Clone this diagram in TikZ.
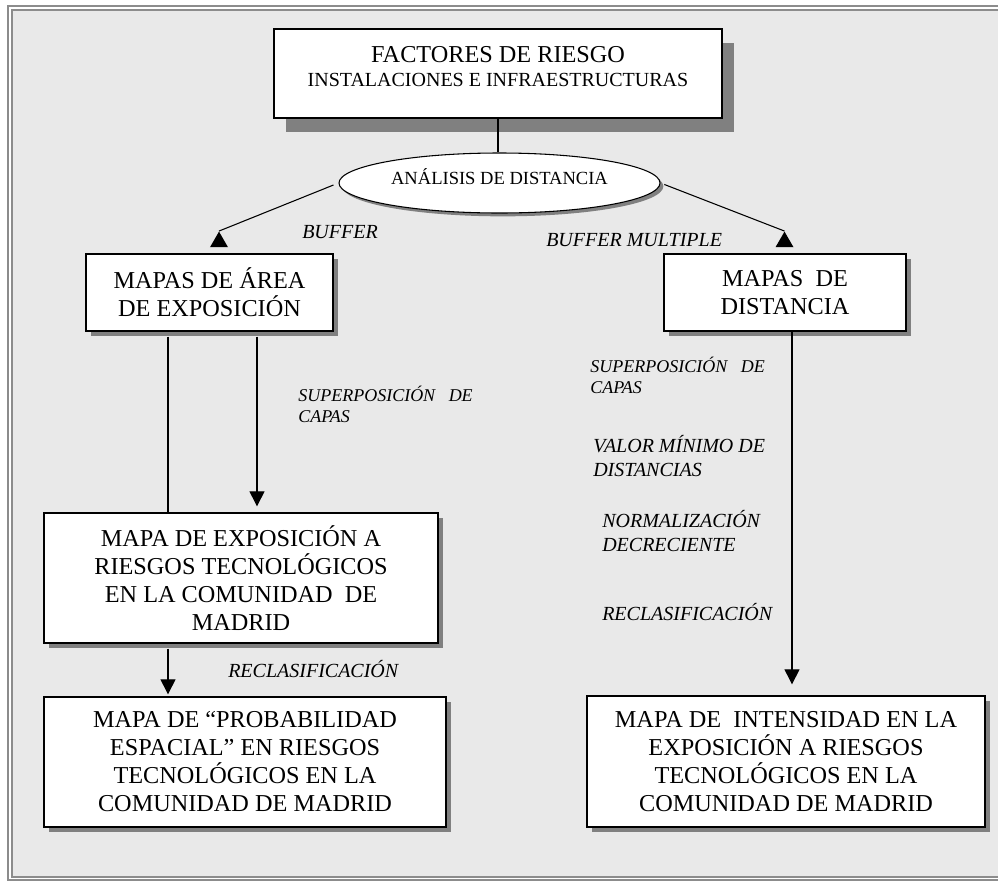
\documentclass[tikz,border=0pt]{standalone}
\usepackage{fontspec}
\setmainfont{Liberation Serif}
\usetikzlibrary{shapes.geometric,shadows,arrows.meta}
\definecolor{panel}{HTML}{E9E9E9}
\definecolor{rim}{HTML}{8C8C8C}
\definecolor{shade}{HTML}{808080}

\begin{document}
\begin{tikzpicture}[x=0.75pt,y=-0.75pt,
    plainbox/.style={draw,line width=1pt,fill=white,align=center,inner sep=0pt,
        font=\fontsize{18.2}{21}\selectfont},
    box/.style={plainbox,drop shadow={shadow xshift=3.75pt,shadow yshift=-3.75pt,fill=shade,opacity=1}},
    topbox/.style={plainbox,drop shadow={shadow xshift=9pt,shadow yshift=-10.5pt,fill=shade,opacity=1}},
    oval/.style={ellipse,draw,line width=0.8pt,fill=white,inner sep=0pt,
        font=\fontsize{13.9}{16}\selectfont,text height=9pt,text depth=6.75pt,
        drop shadow={shadow xshift=2.5pt,shadow yshift=-2.5pt,fill=shade,opacity=1}},
    lbl/.style={anchor=west,align=left,inner sep=0pt,font=\fontsize{15}{18}\selectfont\itshape},
    smlbl/.style={lbl,font=\fontsize{13.5}{15.75}\selectfont\itshape},
    tri/.style={regular polygon,regular polygon sides=3,fill=black,inner sep=0pt,minimum size=15.6pt},
    ln/.style={line width=0.8pt},
    arr/.style={line width=0.8pt,-{Triangle[width=11.25pt,length=11.25pt]}}]
\useasboundingbox (0,0) rectangle (998,882);
\fill[white] (0,0) rectangle (998,882);
\clip (0,0) rectangle (998,882);
\fill[panel] (12,10) rectangle (1030,877);
\draw[rim,line width=1.1pt] (8,6) rectangle (1034,880);
\draw[rim,line width=1.1pt] (12,10) rectangle (1030,877);

\node[topbox,minimum width=336pt,minimum height=66.75pt] (fact) at (498,73.5)
    {FACTORES DE RIESGO\\[-3pt]{\fontsize{15}{19.5}\selectfont INSTALACIONES E INFRAESTRUCTURAS}\\[-10.5pt]\mbox{}};
\node[oval,minimum width=240.75pt,minimum height=45pt] (ell) at (499.5,183) {ANÁLISIS DE DISTANCIA};
\node[box,minimum width=185.25pt,minimum height=57.75pt] (area) at (209.5,292.5) {MAPAS DE ÁREA\\DE EXPOSICIÓN};
\node[box,minimum width=181.5pt,minimum height=57.75pt] (dist) at (785,292.5) {MAPAS~ DE\\DISTANCIA};
\node[box,minimum width=295.5pt,minimum height=97.5pt] (expo) at (241,578)
    {MAPA DE EXPOSICIÓN A\\RIESGOS TECNOLÓGICOS\\EN LA COMUNIDAD~ DE\\MADRID};
\node[box,minimum width=301.5pt,minimum height=97.5pt] (prob) at (245,762)
    {MAPA DE “PROBABILIDAD\\ESPACIAL” EN RIESGOS\\TECNOLÓGICOS EN LA\\COMUNIDAD DE MADRID};
\node[box,minimum width=298.5pt,minimum height=98.25pt] (inten) at (786,761.5)
    {MAPA DE~ INTENSIDAD EN LA\\EXPOSICIÓN A RIESGOS\\TECNOLÓGICOS EN LA\\COMUNIDAD DE MADRID};

\node[tri] (tipL) at (219,242) {};
\node[tri] (tipR) at (784.5,242) {};

\node[lbl] (buf) at (302,232) {BUFFER};
\node[lbl] (bufm) at (546,240) {BUFFER MULTIPLE};
\node[smlbl] (supL) at (298,404.5) {SUPERPOSICIÓN~~~DE\\CAPAS};
\node[lbl] (recL) at (228,669) {RECLASIFICACIÓN};
\node[smlbl] (supR) at (590,375.5) {SUPERPOSICIÓN~~~DE\\CAPAS};
\node[lbl] (valor) at (593,456) {VALOR MÍNIMO DE\\DISTANCIAS};
\node[lbl] (norm) at (602,531) {NORMALIZACIÓN\\DECRECIENTE};
\node[lbl] (recR) at (602,612) {RECLASIFICACIÓN};

\draw[ln] (fact.south) -- (fact.south |- ell.north);
\draw[ln,shorten <=4pt] (ell.west) -- (tipL.corner 1);
\draw[ln,shorten <=3pt] (ell.east) -- (tipR.corner 1);
\draw[ln] (area.south) ++(-41.5,5) coordinate (a1) -- (a1 |- expo.north);
\draw[arr,shorten >=4.5pt] (area.south) ++(47.5,5) coordinate (a2) -- (a2 |- expo.north);
\draw[arr,shorten >=1.5pt] (expo.south) ++(-73,5) coordinate (e1) -- (e1 |- prob.north);
\draw[arr,shorten >=8.25pt] (dist.south) ++(7,0) coordinate (d1) -- (d1 |- inten.north);
\end{tikzpicture}
\end{document}
